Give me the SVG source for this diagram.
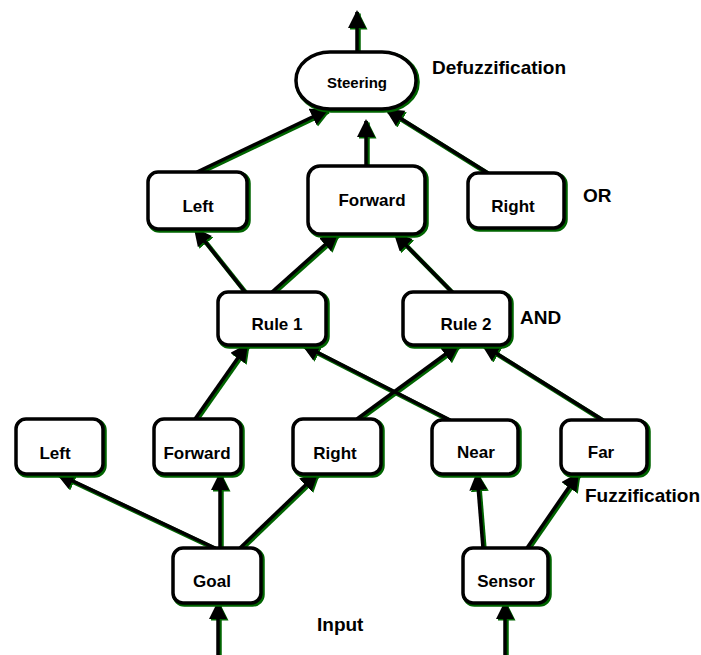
<svg xmlns="http://www.w3.org/2000/svg" width="701" height="655" viewBox="0 0 701 655">
<style>
.sh{fill:none;stroke:#006400;stroke-width:4.5}
.bx{fill:#fff;stroke:#000;stroke-width:3.5}
.lk{fill:none;stroke:#000;stroke-width:3.5;marker-end:url(#ah)}
.lg{fill:none;stroke:#006400;stroke-width:4.5;marker-end:url(#ahg)}
text{font-family:"Liberation Sans",Arial,sans-serif;font-weight:bold;fill:#000}
.n{font-size:17px;text-anchor:middle}
.lab{font-size:19px}
</style>
<defs>
<marker id="ah" markerUnits="userSpaceOnUse" markerWidth="20" markerHeight="20" refX="16" refY="9" orient="auto"><path d="M0,0 L18,9 L0,18 z" fill="#000"/></marker>
<marker id="ahg" markerUnits="userSpaceOnUse" markerWidth="20" markerHeight="20" refX="16" refY="9" orient="auto"><path d="M0,0 L18,9 L0,18 z" fill="#006400"/></marker>
</defs>
<rect width="701" height="655" fill="#fff"/>
<g id="connectors">
<g transform="translate(1.5,1.5)">
<path class="lg" d="M357,52 L357,12"/>
<path class="lg" d="M197,172 L327,110"/>
<path class="lg" d="M366,166 L366,121"/>
<path class="lg" d="M488,173 L387,110"/>
<path class="lg" d="M245,292 L195,229"/>
<path class="lg" d="M272,292 L337,234"/>
<path class="lg" d="M452,292 L395,234"/>
<path class="lg" d="M195,419 L247,345"/>
<path class="lg" d="M450,420 L303,345"/>
<path class="lg" d="M357,419 L458,345"/>
<path class="lg" d="M603,420 L483,345"/>
<path class="lg" d="M215,548 L58,474"/>
<path class="lg" d="M220,548 L220,474"/>
<path class="lg" d="M240,548 L317,474"/>
<path class="lg" d="M483,548 L477,474"/>
<path class="lg" d="M527,548 L578,474"/>
<path class="lg" d="M218,655 L218,603"/>
<path class="lg" d="M505,655 L505,603"/>
</g>
<g>
<path class="lk" d="M357,52 L357,12"/>
<path class="lk" d="M197,172 L327,110"/>
<path class="lk" d="M366,166 L366,121"/>
<path class="lk" d="M488,173 L387,110"/>
<path class="lk" d="M245,292 L195,229"/>
<path class="lk" d="M272,292 L337,234"/>
<path class="lk" d="M452,292 L395,234"/>
<path class="lk" d="M195,419 L247,345"/>
<path class="lk" d="M450,420 L303,345"/>
<path class="lk" d="M357,419 L458,345"/>
<path class="lk" d="M603,420 L483,345"/>
<path class="lk" d="M215,548 L58,474"/>
<path class="lk" d="M220,548 L220,474"/>
<path class="lk" d="M240,548 L317,474"/>
<path class="lk" d="M483,548 L477,474"/>
<path class="lk" d="M527,548 L578,474"/>
<path class="lk" d="M218,655 L218,603"/>
<path class="lk" d="M505,655 L505,603"/>
</g>
</g>
<g id="steering"><rect class="sh" x="297.5" y="53.5" width="120" height="57" rx="34" ry="28"/><rect class="bx" x="296" y="52" width="120" height="57" rx="34" ry="28"/><text class="n" x="357" y="88" style="font-size:15px">Steering</text></g>
<g id="out-left"><rect class="sh" x="149.5" y="173.5" width="99" height="57" rx="10"/><rect class="bx" x="148" y="172" width="99" height="57" rx="10"/><text class="n" x="198" y="212">Left</text></g>
<g id="out-forward"><rect class="sh" x="309.5" y="167.5" width="117" height="68" rx="12"/><rect class="bx" x="308" y="166" width="117" height="68" rx="12"/><text class="n" x="372" y="206">Forward</text></g>
<g id="out-right"><rect class="sh" x="469.5" y="174.5" width="96" height="55" rx="10"/><rect class="bx" x="468" y="173" width="96" height="55" rx="10"/><text class="n" x="513" y="212">Right</text></g>
<g id="rule1"><rect class="sh" x="219.5" y="293.5" width="108" height="53" rx="10"/><rect class="bx" x="218" y="292" width="108" height="53" rx="10"/><text class="n" x="277" y="330">Rule 1</text></g>
<g id="rule2"><rect class="sh" x="404.5" y="293.5" width="107" height="53" rx="10"/><rect class="bx" x="403" y="292" width="107" height="53" rx="10"/><text class="n" x="466" y="330">Rule 2</text></g>
<g id="in-left"><rect class="sh" x="17.5" y="420.5" width="87" height="55" rx="10"/><rect class="bx" x="16" y="419" width="87" height="55" rx="10"/><text class="n" x="55" y="459">Left</text></g>
<g id="in-forward"><rect class="sh" x="155.5" y="420.5" width="87" height="55" rx="10"/><rect class="bx" x="154" y="419" width="87" height="55" rx="10"/><text class="n" x="197" y="459">Forward</text></g>
<g id="in-right"><rect class="sh" x="294.5" y="420.5" width="88" height="55" rx="10"/><rect class="bx" x="293" y="419" width="88" height="55" rx="10"/><text class="n" x="335" y="459">Right</text></g>
<g id="near"><rect class="sh" x="433.5" y="421.5" width="86" height="54" rx="10"/><rect class="bx" x="432" y="420" width="86" height="54" rx="10"/><text class="n" x="476" y="458">Near</text></g>
<g id="far"><rect class="sh" x="562.5" y="421.5" width="86" height="54" rx="10"/><rect class="bx" x="561" y="420" width="86" height="54" rx="10"/><text class="n" x="601" y="458">Far</text></g>
<g id="goal"><rect class="sh" x="174.5" y="549.5" width="88" height="55" rx="10"/><rect class="bx" x="173" y="548" width="88" height="55" rx="10"/><text class="n" x="212" y="587">Goal</text></g>
<g id="sensor"><rect class="sh" x="464.5" y="549.5" width="85" height="55" rx="10"/><rect class="bx" x="463" y="548" width="85" height="55" rx="10"/><text class="n" x="506" y="587">Sensor</text></g>
<g id="labels">
<text class="lab" x="432" y="74">Defuzzification</text>
<text class="lab" x="583" y="202">OR</text>
<text class="lab" x="520" y="324">AND</text>
<text class="lab" x="585" y="502">Fuzzification</text>
<text class="lab" x="317" y="631">Input</text>
</g>
</svg>
